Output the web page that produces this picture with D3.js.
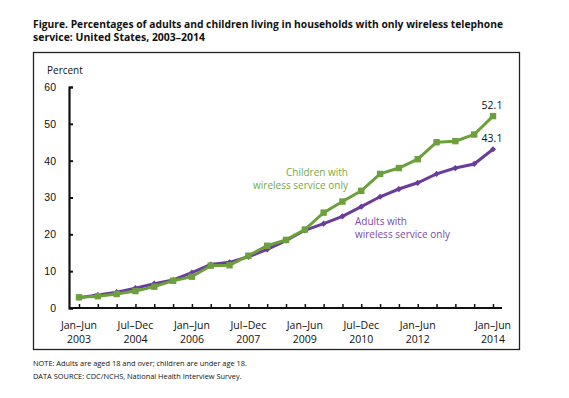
<!DOCTYPE html>
<html>
<head>
<meta charset="utf-8">
<script src="https://cdn.jsdelivr.net/npm/d3@7"></script>
<style>
  body { margin: 0; background: #fff; }
  svg { display: block; font-family: "Open Sans", "Noto Sans", sans-serif; }
</style>
</head>
<body>
<svg id="chart" width="569" height="398"></svg>
<script>
// half-year periods, Jan–Jun 2003 .. Jan–Jun 2014
const periods = [
  "Jan–Jun 2003", "Jul–Dec 2003", "Jan–Jun 2004", "Jul–Dec 2004",
  "Jan–Jun 2005", "Jul–Dec 2005", "Jan–Jun 2006", "Jul–Dec 2006",
  "Jan–Jun 2007", "Jul–Dec 2007", "Jan–Jun 2008", "Jul–Dec 2008",
  "Jan–Jun 2009", "Jul–Dec 2009", "Jan–Jun 2010", "Jul–Dec 2010",
  "Jan–Jun 2011", "Jul–Dec 2011", "Jan–Jun 2012", "Jul–Dec 2012",
  "Jan–Jun 2013", "Jul–Dec 2013", "Jan–Jun 2014",
];
const adults = [2.8, 3.5, 4.3, 5.4, 6.6, 7.6, 9.6, 11.8, 12.4, 13.9, 15.9, 18.3,
  21.1, 22.9, 24.9, 27.5, 30.2, 32.3, 34.0, 36.4, 38.0, 39.1, 43.1];
const children = [2.9, 3.2, 3.8, 4.6, 5.8, 7.4, 8.5, 11.5, 11.6, 14.2, 16.9, 18.5,
  21.3, 25.9, 28.9, 31.8, 36.4, 38.0, 40.4, 45.0, 45.3, 47.1, 52.1];
const yTicks = [0, 10, 20, 30, 40, 50, 60];
const labelledPeriods = [0, 3, 6, 9, 12, 15, 18, 22];

const GREEN = "#6ca03c";
const PURPLE = "#6a3d9a";

const svg = d3.select("#chart");

// title
const title = svg.append("g").attr("font-weight", "bold").attr("font-size", 11).attr("fill", "#111");
title.append("text").attr("x", 33).attr("y", 27.5)
  .attr("textLength", 470).attr("lengthAdjust", "spacingAndGlyphs")
  .text("Figure. Percentages of adults and children living in households with only wireless telephone");
title.append("text").attr("x", 33).attr("y", 41)
  .attr("textLength", 172).attr("lengthAdjust", "spacingAndGlyphs")
  .text("service: United States, 2003–2014");

// frame
svg.append("rect").attr("x", 33.5).attr("y", 52.5).attr("width", 486).attr("height", 297)
  .attr("fill", "none").attr("stroke", "#222").attr("stroke-width", 1.3);

const x = d3.scaleLinear().domain([0, periods.length - 1]).range([79, 493]);
const y = d3.scaleLinear().domain([0, 60]).range([308, 87]);

// y axis
const yAxis = svg.append("g").attr("transform", "translate(69,0)")
  .call(d3.axisLeft(y).tickValues(yTicks).tickSize(-4).tickPadding(13));
yAxis.select(".domain").attr("stroke", "#111").attr("stroke-width", 2.2);
yAxis.selectAll(".tick line").attr("stroke", "#111").attr("stroke-width", 2);
yAxis.selectAll("text").attr("font-size", 10.5).attr("fill", "#111").attr("font-family", null);

svg.append("text").attr("x", 47).attr("y", 74).attr("font-size", 10).attr("fill", "#111").text("Percent");

// x axis
const xAxis = svg.append("g").attr("transform", "translate(0,308)")
  .call(d3.axisBottom(x).tickValues(d3.range(periods.length)).tickSize(-4).tickFormat(""));
xAxis.select(".domain").attr("d", "M69,0H502").attr("stroke", "#111").attr("stroke-width", 2.2);
xAxis.selectAll(".tick line").attr("stroke", "#111").attr("stroke-width", 1.5);

const xl = svg.append("g").attr("font-size", 10.5).attr("fill", "#111").attr("text-anchor", "middle");
labelledPeriods.forEach((i) => {
  const [half, year] = periods[i].split(" ");
  const t = xl.append("text").attr("x", x(i)).attr("y", 329);
  t.append("tspan").attr("x", x(i)).text(half);
  t.append("tspan").attr("x", x(i)).attr("dy", 13.5).text(year);
});

// lines
const line = d3.line().x((d, i) => x(i)).y((d) => y(d));

svg.append("path").datum(adults).attr("d", line)
  .attr("fill", "none").attr("stroke", PURPLE).attr("stroke-width", 3);
svg.append("g").selectAll("rect").data(adults).join("rect")
  .attr("x", (d, i) => x(i) - 2.2).attr("y", (d) => y(d) - 2.2)
  .attr("width", 4.4).attr("height", 4.4).attr("fill", PURPLE)
  .attr("transform", (d, i) => `rotate(45,${x(i)},${y(d)})`);

svg.append("path").datum(children).attr("d", line)
  .attr("fill", "none").attr("stroke", GREEN).attr("stroke-width", 3);
svg.append("g").selectAll("rect").data(children).join("rect")
  .attr("x", (d, i) => x(i) - 3.2).attr("y", (d) => y(d) - 3.2)
  .attr("width", 6.4).attr("height", 6.4).attr("fill", GREEN);

// end values
const last = periods.length - 1;
svg.append("text").attr("x", x(last) - 1).attr("y", y(children[last]) - 7)
  .attr("text-anchor", "middle").attr("font-size", 10.5).attr("fill", "#111")
  .text(children[last].toFixed(1));
svg.append("text").attr("x", x(last) - 1).attr("y", y(adults[last]) - 7)
  .attr("text-anchor", "middle").attr("font-size", 10.5).attr("fill", "#111")
  .text(adults[last].toFixed(1));

// series labels
const cl = svg.append("text").attr("font-size", 10).attr("fill", "#76a846").attr("text-anchor", "end");
cl.append("tspan").attr("x", 348).attr("y", 176).text("Children with");
cl.append("tspan").attr("x", 348).attr("dy", 13).text("wireless service only");

const al = svg.append("text").attr("font-size", 10).attr("fill", "#7b4aa8");
al.append("tspan").attr("x", 355).attr("y", 225).text("Adults with");
al.append("tspan").attr("x", 355).attr("dy", 13).text("wireless service only");

// notes
const notes = svg.append("g").attr("font-size", 7.4).attr("fill", "#111");
notes.append("text").attr("x", 33).attr("y", 366)
  .text("NOTE: Adults are aged 18 and over; children are under age 18.");
notes.append("text").attr("x", 33).attr("y", 379)
  .text("DATA SOURCE: CDC/NCHS, National Health Interview Survey.");
</script>
</body>
</html>
